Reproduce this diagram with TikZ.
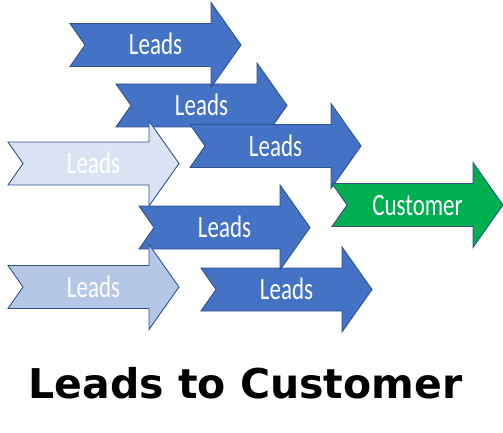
\documentclass[tikz,border=0pt]{standalone}
\usepackage{fontspec}
\setmainfont{Carlito}
\newfontfamily\titlefont{DejaVu Sans}
\definecolor{accblue}{HTML}{4472C4}
\definecolor{edgeblue}{HTML}{2F528F}
\definecolor{paleblue}{HTML}{DAE3F3}
\definecolor{softblue}{HTML}{B4C7E7}
\definecolor{custgreen}{HTML}{00B050}
\tikzset{
  arrowshape/.style={draw=edgeblue, line width=0.9pt, line join=miter},
  lbl/.style={text=white, inner sep=0pt, anchor=base, font=\fontsize{31}{31}\selectfont},
  titletext/.style={inner sep=0pt, anchor=base, font=\titlefont\bfseries\fontsize{41}{41}\selectfont}
}
\newcommand\leadarrow[5]{%
  \draw[arrowshape, fill=#4] (#2,#3-21.5) -- ++(141,0) -- ++(0,-21) -- (#2+171,#3) -- (#2+141,#3+42.5) -- ++(0,-21) -- (#2,#3+21.5) -- (#2+15,#3) -- cycle;
  \node[lbl] (#1) at (#2+85.5,#3+10) {\scalebox{0.74}[1]{#5}};
}
\begin{document}
\begin{tikzpicture}[x=1pt,y=-1pt]
\useasboundingbox (0,0) rectangle (503,433);
\leadarrow{a2}{116}{105.5}{accblue}{Leads}
\leadarrow{a1}{70}{45}{accblue}{Leads}
\leadarrow{a3}{190}{146}{accblue}{Leads}
\leadarrow{cust}{332}{205}{custgreen}{Customer}
\leadarrow{a6}{201}{289.5}{accblue}{Leads}
\leadarrow{a5}{139}{227.5}{accblue}{Leads}
\leadarrow{a4}{8}{163.5}{paleblue}{Leads}
\leadarrow{a7}{8}{287}{softblue}{Leads}
\node[titletext] (title) at (245.5,398) {Leads to Customer};
\end{tikzpicture}
\end{document}
